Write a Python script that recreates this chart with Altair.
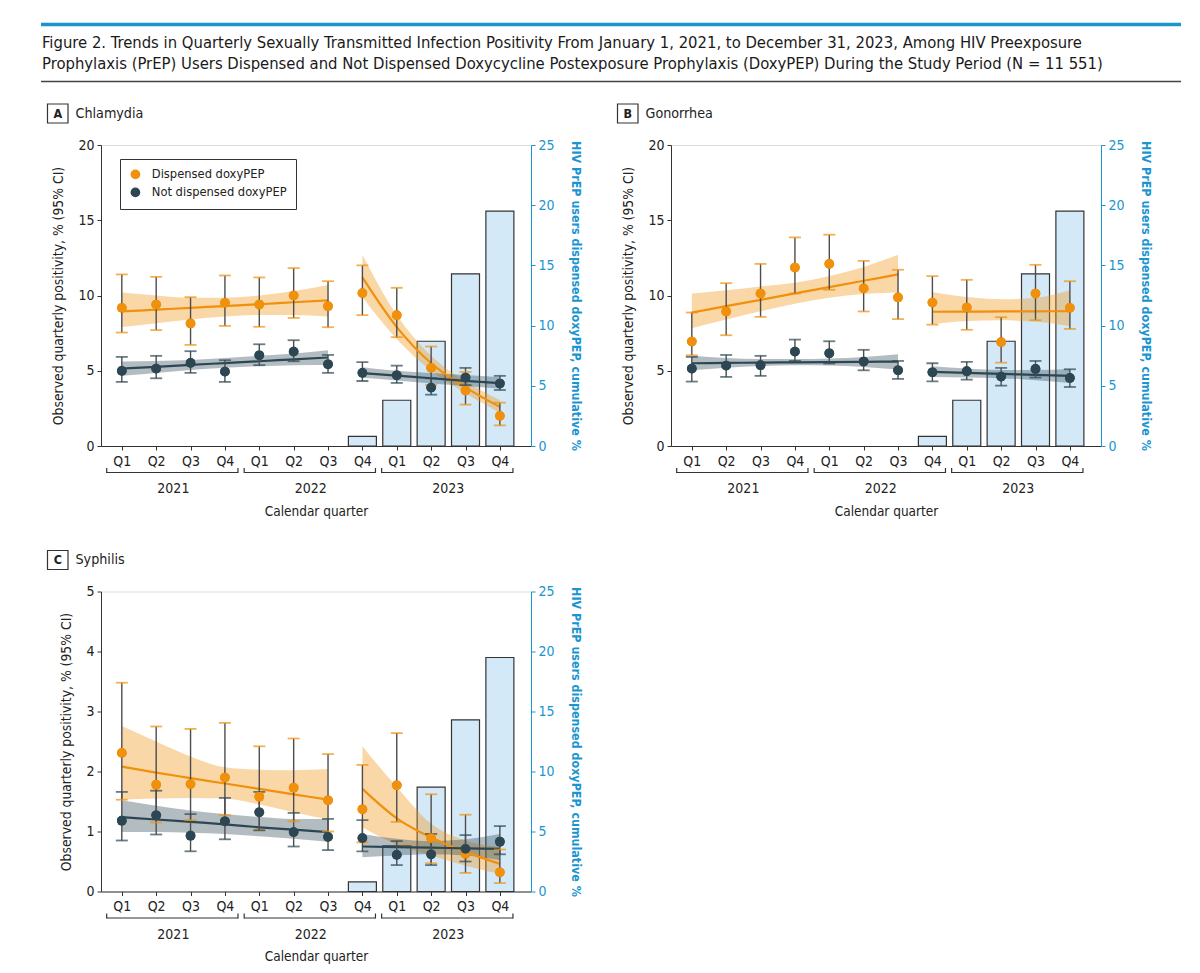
import json
import altair as alt
import pandas as pd

# ---------------- data ----------------
quarters = ["Q1", "Q2", "Q3", "Q4", "Q1", "Q2", "Q3", "Q4", "Q1", "Q2", "Q3", "Q4"]
periods = ["pre", "pre", "pre", "pre", "pre", "pre", "pre", "post", "post", "post", "post", "post"]
years = ["2021", "2022", "2023"]
year_first = [0, 4, 8]
year_last = [3, 7, 11]
series_names = ["Dispensed doxyPEP", "Not dispensed doxyPEP"]
panel_letters = ["A", "B", "C"]
panel_names = ["Chlamydia", "Gonorrhea", "Syphilis"]
title_lines = [
    "Figure 2. Trends in Quarterly Sexually Transmitted Infection Positivity From January 1, 2021, to December 31, 2023, Among HIV Preexposure",
    "Prophylaxis (PrEP) Users Dispensed and Not Dispensed Doxycycline Postexposure Prophylaxis (DoxyPEP) During the Study Period (N = 11 551)",
]
left_title = "Observed quarterly positivity, % (95% CI)"
right_title = "HIV PrEP users dispensed doxyPEP, cumulative %"
x_title = "Calendar quarter"

# cumulative % of PrEP users dispensed doxyPEP (bars)
bar_quarter = [7, 8, 9, 10, 11]
bar_cum = [0.8, 3.8, 8.7, 14.3, 19.5]

# Chlamydia
chl_disp_est = [9.18, 9.40, 8.14, 9.51, 9.40, 10.00, 9.29, 10.16, 8.69, 5.19, 3.68, 2.00]
chl_disp_lo = [7.54, 7.70, 6.72, 7.98, 7.92, 8.51, 7.89, 8.69, 7.23, 4.05, 2.75, 1.37]
chl_disp_hi = [11.40, 11.24, 9.89, 11.33, 11.20, 11.82, 10.95, 12.00, 10.51, 6.61, 4.92, 2.88]
chl_nd_est = [4.99, 5.14, 5.52, 4.94, 6.03, 6.27, 5.43, 4.86, 4.70, 3.88, 4.55, 4.15]
chl_nd_lo = [4.26, 4.50, 4.86, 4.26, 5.37, 5.63, 4.86, 4.32, 4.19, 3.41, 4.04, 3.72]
chl_nd_hi = [5.92, 5.99, 6.30, 5.70, 6.76, 7.03, 6.05, 5.57, 5.34, 4.50, 5.19, 4.66]
chl_disp_fit = [8.94, 9.06, 9.18, 9.30, 9.42, 9.55, 9.67, 11.2, 7.9, 5.5, 3.9, 2.6]
chl_disp_fit_lo = [7.9, 8.15, 8.4, 8.6, 8.7, 8.7, 8.6, 9.9, 7.1, 5.0, 3.5, 2.2]
chl_disp_fit_hi = [10.2, 10.0, 9.85, 9.85, 10.0, 10.3, 10.7, 12.7, 8.7, 6.0, 4.3, 3.05]
chl_nd_fit = [5.14, 5.26, 5.39, 5.51, 5.63, 5.76, 5.88, 4.84, 4.67, 4.50, 4.33, 4.17]
chl_nd_fit_lo = [4.66, 4.85, 5.05, 5.2, 5.3, 5.37, 5.39, 4.53, 4.35, 4.15, 3.98, 3.8]
chl_nd_fit_hi = [5.61, 5.65, 5.72, 5.85, 6.0, 6.15, 6.36, 5.24, 5.0, 4.85, 4.72, 4.57]

# Gonorrhea
gon_disp_est = [6.94, 8.94, 10.13, 11.86, 12.10, 10.47, 9.87, 9.53, 9.20, 6.90, 10.13, 9.18]
gon_disp_lo = [6.03, 7.36, 8.58, 10.13, 10.38, 8.94, 8.43, 8.07, 7.72, 5.54, 8.36, 7.78]
gon_disp_hi = [8.87, 10.82, 12.10, 13.86, 14.04, 12.30, 11.71, 11.29, 11.04, 8.56, 12.04, 10.95]
gon_nd_est = [5.14, 5.34, 5.37, 6.27, 6.16, 5.61, 5.03, 4.90, 4.97, 4.61, 5.12, 4.52]
gon_nd_lo = [4.28, 4.59, 4.66, 5.65, 5.48, 5.03, 4.46, 4.30, 4.41, 4.01, 4.55, 3.92]
gon_nd_hi = [5.92, 6.05, 5.99, 7.07, 6.96, 6.39, 5.65, 5.50, 5.59, 5.19, 5.65, 5.10]
gon_disp_fit = [8.87, 9.29, 9.71, 10.14, 10.56, 10.98, 11.4, 8.92, 8.93, 8.94, 8.95, 8.96]
gon_disp_fit_lo = [7.83, 8.4, 8.95, 9.45, 9.85, 10.1, 10.2, 8.09, 8.3, 8.35, 8.25, 7.98]
gon_disp_fit_hi = [10.13, 10.35, 10.6, 10.85, 11.3, 11.9, 12.7, 10.24, 9.9, 9.75, 9.85, 10.35]
gon_nd_fit = [5.50, 5.52, 5.54, 5.56, 5.57, 5.59, 5.61, 4.92, 4.86, 4.79, 4.73, 4.66]
gon_nd_fit_lo = [5.03, 5.2, 5.32, 5.37, 5.35, 5.25, 5.08, 4.59, 4.55, 4.5, 4.37, 4.19]
gon_nd_fit_hi = [5.99, 5.85, 5.78, 5.78, 5.82, 5.92, 6.1, 5.3, 5.15, 5.05, 5.05, 5.12]

# Syphilis
syp_disp_est = [2.31, 1.78, 1.79, 1.90, 1.58, 1.73, 1.52, 1.37, 1.77, 0.89, 0.63, 0.32]
syp_disp_lo = [1.53, 1.15, 1.19, 1.27, 1.02, 1.17, 1.00, 0.82, 1.16, 0.47, 0.31, 0.14]
syp_disp_hi = [3.48, 2.75, 2.71, 2.81, 2.42, 2.55, 2.29, 2.11, 2.64, 1.62, 1.28, 0.70]
syp_nd_est = [1.18, 1.27, 0.93, 1.17, 1.32, 0.99, 0.91, 0.89, 0.61, 0.62, 0.71, 0.83]
syp_nd_lo = [0.85, 0.95, 0.67, 0.87, 1.02, 0.75, 0.69, 0.67, 0.44, 0.44, 0.50, 0.62]
syp_nd_hi = [1.66, 1.68, 1.29, 1.56, 1.66, 1.31, 1.21, 1.19, 0.84, 0.96, 0.94, 1.09]
syp_disp_fit = [2.08, 1.98, 1.89, 1.80, 1.71, 1.62, 1.53, 1.71, 1.22, 0.90, 0.66, 0.46]
syp_disp_fit_lo = [1.53, 1.55, 1.56, 1.55, 1.45, 1.32, 1.20, 1.07, 0.78, 0.60, 0.43, 0.29]
syp_disp_fit_hi = [2.76, 2.50, 2.25, 2.07, 2.03, 2.02, 2.04, 2.42, 1.74, 1.13, 0.85, 0.74]
syp_nd_fit = [1.24, 1.20, 1.16, 1.12, 1.07, 1.03, 0.99, 0.75, 0.74, 0.73, 0.72, 0.71]
syp_nd_fit_lo = [0.99, 0.99, 0.98, 0.96, 0.92, 0.88, 0.83, 0.57, 0.60, 0.62, 0.60, 0.52]
syp_nd_fit_hi = [1.52, 1.43, 1.35, 1.29, 1.24, 1.21, 1.21, 0.96, 0.88, 0.84, 0.87, 0.96]

# ---------------- style ----------------
ORANGE = "#f0900c"
DARK = "#2c4753"
BLUE = "#1b95cf"
TEXT = "#222222"
FONT = "Liberation Sans Narrow, DejaVu Sans Condensed, Arial Narrow, sans-serif"
W = 430


def series_df(name, est, lo, hi, fit, fit_lo, fit_hi):
    return pd.DataFrame({
        "q": list(range(12)), "series": name, "est": est, "lo": lo, "hi": hi,
        "fit": fit, "fit_lo": fit_lo, "fit_hi": fit_hi, "period": periods,
    })


bars_df = pd.DataFrame({"q": bar_quarter, "cum": bar_cum})
years_df = pd.DataFrame({"year": years, "first": year_first, "last": year_last})

x_scale = alt.Scale(domain=[-0.46, 11.76], nice=False, zero=False)
x_axis = alt.Axis(
    values=list(range(12)),
    labelExpr=f"{json.dumps(quarters)}[datum.value]",
    title=x_title, titlePadding=36, tickSize=4, labelPadding=4, grid=False,
    domainColor="#333", tickColor="#333", labelColor=TEXT, titleColor=TEXT,
    labelFontSize=14, titleFontSize=13.5, titleFontWeight="normal",
    labelFlush=False, labelOverlap=False,
)


def X(field="q"):
    return alt.X(f"{field}:Q", scale=x_scale, axis=x_axis)


def make_panel(k, disp, nd, ymax, h, show_legend, header=False):
    df = pd.concat([series_df(series_names[0], *disp), series_df(series_names[1], *nd)])
    base = alt.Chart(df)
    cscale = alt.Scale(domain=series_names, range=[ORANGE, DARK])
    c_nolegend = alt.Color("series:N", scale=cscale, legend=None)
    y_scale = alt.Scale(domain=[0, ymax], nice=False, zero=True)
    y_axis = alt.Axis(
        orient="left", values=list(range(0, ymax + 1, ymax // 4 if ymax > 5 else 1)),
        title=left_title, titlePadding=12, tickSize=4, labelPadding=3, grid=False,
        domainColor="#333", tickColor="#333", labelColor=TEXT, titleColor=TEXT,
        labelFontSize=14, titleFontSize=13.8, titleFontWeight="normal",
    )
    Y = lambda f: alt.Y(f"{f}:Q", scale=y_scale, axis=y_axis)

    if show_legend:
        legend = alt.Legend(
            title=None, orient="none", legendX=19, legendY=14, strokeColor="#333",
            fillColor="white", padding=9, symbolType="circle", symbolSize=95,
            symbolStrokeWidth=0, labelFontSize=12.8, labelFont=FONT, labelColor=TEXT,
            rowPadding=4, labelOffset=10,
        )
    else:
        legend = None

    pts = base.mark_circle(size=95, opacity=1).encode(
        x=X(), y=Y("est"), color=alt.Color("series:N", scale=cscale, legend=legend)
    )
    band = base.mark_area(opacity=0.36, interpolate="monotone").encode(
        x=X(), y=Y("fit_lo"), y2="fit_hi", color=c_nolegend, detail="period:N",
    )
    line = base.mark_line(strokeWidth=2.2, interpolate="monotone").encode(
        x=X(), y=Y("fit"), color=c_nolegend, detail="period:N"
    )
    err = base.mark_rule(strokeWidth=1.4, color="#4d4d4d").encode(x=X(), y=Y("lo"), y2="hi")
    cap_lo = base.mark_tick(orient="horizontal", size=12, thickness=1.8).encode(
        x=X(), y=Y("lo"), color=c_nolegend)
    cap_hi = base.mark_tick(orient="horizontal", size=12, thickness=1.8).encode(
        x=X(), y=Y("hi"), color=c_nolegend)
    inner = alt.layer(pts, band, line, err, cap_lo, cap_hi, pts)

    bars = alt.Chart(bars_df).mark_bar(size=28, fill="#d4e9f8", stroke="#333", strokeWidth=1.2).encode(
        x=X(),
        y=alt.Y("cum:Q", scale=alt.Scale(domain=[0, 25], nice=False),
                axis=alt.Axis(orient="right", values=[0, 5, 10, 15, 20, 25], title=right_title,
                              titlePadding=14, tickSize=4, labelPadding=3, grid=False,
                              domainColor=BLUE, tickColor=BLUE, labelColor=BLUE, titleColor=BLUE,
                              labelFontSize=14, titleFontSize=12.4, titleFontWeight="bold")),
    )

    ybase = alt.Chart(years_df).transform_calculate(
        b0="datum.first - 0.44", b1="datum.last + 0.38", mid="(datum.first + datum.last) / 2"
    )
    br_h = ybase.mark_rule(color="#333", strokeWidth=1.2).encode(
        x=X("b0"), x2="b1:Q", y=alt.value(h + 26.5))
    br_l = ybase.mark_rule(color="#333", strokeWidth=1.2).encode(
        x=X("b0"), y=alt.value(h + 22), y2=alt.value(h + 27))
    br_r = ybase.mark_rule(color="#333", strokeWidth=1.2).encode(
        x=X("b1"), y=alt.value(h + 22), y2=alt.value(h + 27))
    yr = ybase.mark_text(fontSize=14, font=FONT, color=TEXT, baseline="middle").encode(
        x=X("mid"), y=alt.value(h + 43), text="year:N")

    lab_df = pd.DataFrame({"letter": [panel_letters[k]], "name": [panel_names[k]]})
    lb = alt.Chart(lab_df)
    box = lb.mark_rect(fill="white", stroke="#333", strokeWidth=1.2).encode(
        x=alt.value(-53.5), x2=alt.value(-33), y=alt.value(-41), y2=alt.value(-22))
    letter = lb.mark_text(fontSize=12.5, fontWeight="bold", font=FONT, color=TEXT, baseline="middle").encode(
        x=alt.value(-43.2), y=alt.value(-31.3), text="letter:N")
    name = lb.mark_text(fontSize=14.2, font=FONT, color=TEXT, align="left", baseline="middle").encode(
        x=alt.value(-25.5), y=alt.value(-31.3), text="name:N")

    layers = [bars, inner, br_h, br_l, br_r, yr, box, letter, name]

    if header:
        hd = alt.Chart(pd.DataFrame({"l1": [title_lines[0]], "l2": [title_lines[1]]}))
        layers += [
            hd.mark_rule(color=BLUE, strokeWidth=3.5).encode(
                x=alt.value(-60), x2=alt.value(1080), y=alt.value(-120.5)),
            hd.mark_text(align="left", baseline="middle", fontSize=16.5, font=FONT, color="#1a1a1a").encode(
                x=alt.value(-59), y=alt.value(-102.2), text="l1:N"),
            hd.mark_text(align="left", baseline="middle", fontSize=16.5, font=FONT, color="#1a1a1a").encode(
                x=alt.value(-59), y=alt.value(-81.2), text="l2:N"),
            hd.mark_rule(color="#444", strokeWidth=1.5).encode(
                x=alt.value(-60), x2=alt.value(1080), y=alt.value(-63.5)),
        ]

    return alt.layer(*layers).resolve_scale(y="independent").properties(width=W, height=h)


panelA = make_panel(0,
                    (chl_disp_est, chl_disp_lo, chl_disp_hi, chl_disp_fit, chl_disp_fit_lo, chl_disp_fit_hi),
                    (chl_nd_est, chl_nd_lo, chl_nd_hi, chl_nd_fit, chl_nd_fit_lo, chl_nd_fit_hi),
                    20, 301, True, header=True)
panelB = make_panel(1,
                    (gon_disp_est, gon_disp_lo, gon_disp_hi, gon_disp_fit, gon_disp_fit_lo, gon_disp_fit_hi),
                    (gon_nd_est, gon_nd_lo, gon_nd_hi, gon_nd_fit, gon_nd_fit_lo, gon_nd_fit_hi),
                    20, 301, False)
panelC = make_panel(2,
                    (syp_disp_est, syp_disp_lo, syp_disp_hi, syp_disp_fit, syp_disp_fit_lo, syp_disp_fit_hi),
                    (syp_nd_est, syp_nd_lo, syp_nd_hi, syp_nd_fit, syp_nd_fit_lo, syp_nd_fit_hi),
                    5, 300, False)

chart = alt.concat(
    panelA, panelB, panelC, columns=2, bounds="flush",
    spacing={"row": 145.5, "column": 140},
).resolve_scale(color="independent").properties(
    padding={"left": 30, "top": 14, "right": 5, "bottom": 5}
).configure_view(stroke=None).configure(font=FONT).configure_axis(labelFont=FONT, titleFont=FONT)

chart.save("out.html", embed_options={"renderer": "svg", "actions": False})
